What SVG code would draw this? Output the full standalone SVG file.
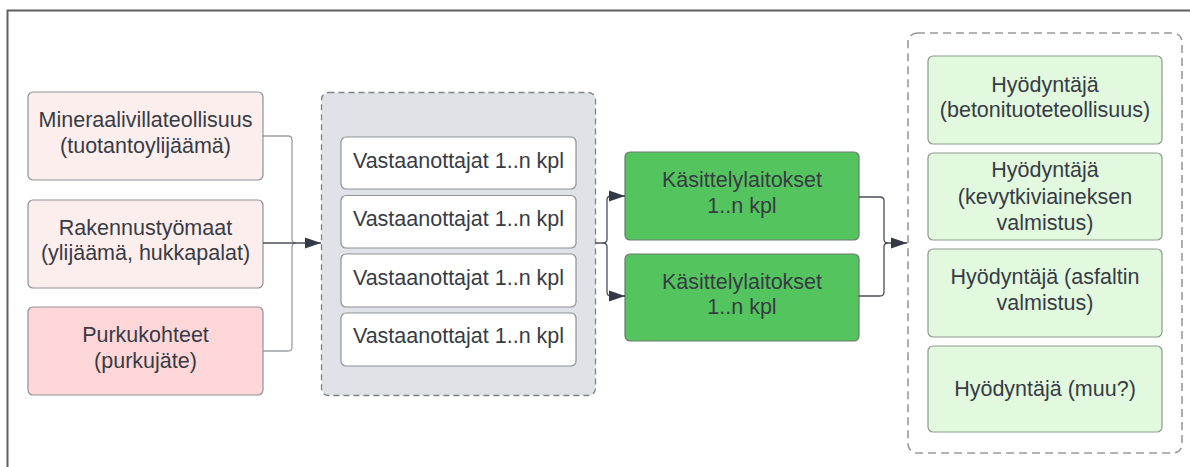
<svg xmlns="http://www.w3.org/2000/svg" width="1190" height="467" viewBox="0 0 1190 467">
  <defs>
    <marker id="arrow" markerUnits="userSpaceOnUse" markerWidth="18" markerHeight="12" refX="16" refY="6" orient="auto">
      <path d="M0,0.5 L16,6 L0,11.5 Z" fill="#333a45"/>
    </marker>
    <style>
      text { font-family: "Liberation Sans", Arial, sans-serif; font-size: 21.5px; fill: #373c44; text-anchor: middle; }
      .box { stroke: #8d9198; stroke-width: 1.2; }
      .src { fill: #fdeeee; }
      .src-strong { fill: #ffd7d9; }
      .recv { fill: #ffffff; }
      .plant { fill: #54c45e; stroke: #6b7a6c; }
      .user { fill: #e2f8df; stroke: #8e9a8e; }
      .group-gray { fill: #dfe2e7; stroke: #7d8188; stroke-width: 1.3; stroke-dasharray: 6 4; }
      .group-open { fill: none; stroke: #9a9a9a; stroke-width: 1.6; stroke-dasharray: 8 5; }
      .link { fill: none; stroke: #9a9ea5; stroke-width: 1.3; }
      .link-main { fill: none; stroke: #4a4f57; stroke-width: 1.3; }
    </style>
  </defs>

  <rect width="1190" height="467" fill="#ffffff"/>

  <!-- outer frame (continues past the right and bottom edges) -->
  <rect x="7.5" y="10.5" width="1220" height="500" fill="none" stroke="#5f5f5f" stroke-width="2"/>

  <!-- containers -->
  <g id="receivers-group">
    <rect class="group-gray" x="321.5" y="92.5" width="274" height="303" rx="7"/>
  </g>
  <g id="users-group">
    <rect class="group-open" x="908" y="33" width="274" height="420" rx="9"/>
  </g>

  <!-- sources -->
  <g id="source-mineraalivilla">
    <rect class="box src" x="28" y="92" width="235" height="88" rx="5"/>
    <text x="145.5" y="127">Mineraalivillateollisuus</text>
    <text x="145.5" y="153">(tuotantoylijäämä)</text>
  </g>
  <g id="source-rakennus">
    <rect class="box src" x="28" y="200" width="235" height="88" rx="5"/>
    <text x="145.5" y="235">Rakennustyömaat</text>
    <text x="145.5" y="260">(ylijäämä, hukkapalat)</text>
  </g>
  <g id="source-purku">
    <rect class="box src-strong" x="28" y="307" width="235" height="88" rx="5"/>
    <text x="145.5" y="342">Purkukohteet</text>
    <text x="145.5" y="368">(purkujäte)</text>
  </g>

  <!-- receivers -->
  <g id="receiver-1">
    <rect class="box recv" x="341" y="137" width="235" height="52" rx="5"/>
    <text x="458.5" y="168">Vastaanottajat 1..n kpl</text>
  </g>
  <g id="receiver-2">
    <rect class="box recv" x="341" y="195.5" width="235" height="52.5" rx="5"/>
    <text x="458.5" y="226">Vastaanottajat 1..n kpl</text>
  </g>
  <g id="receiver-3">
    <rect class="box recv" x="341" y="254" width="235" height="53" rx="5"/>
    <text x="458.5" y="284.5">Vastaanottajat 1..n kpl</text>
  </g>
  <g id="receiver-4">
    <rect class="box recv" x="341" y="313" width="235" height="53" rx="5"/>
    <text x="458.5" y="342.5">Vastaanottajat 1..n kpl</text>
  </g>

  <!-- processing plants -->
  <g id="plant-1">
    <rect class="box plant" x="625" y="152" width="234" height="88" rx="5"/>
    <text x="742" y="187">Käsittelylaitokset</text>
    <text x="742" y="213">1..n kpl</text>
  </g>
  <g id="plant-2">
    <rect class="box plant" x="625" y="254" width="234" height="87" rx="5"/>
    <text x="742" y="288.5">Käsittelylaitokset</text>
    <text x="742" y="314">1..n kpl</text>
  </g>

  <!-- end users -->
  <g id="user-betoni">
    <rect class="box user" x="928" y="56" width="234" height="88" rx="5"/>
    <text x="1045" y="92">Hyödyntäjä</text>
    <text x="1045" y="117">(betonituoteteollisuus)</text>
  </g>
  <g id="user-kevytkivi">
    <rect class="box user" x="928" y="153" width="234" height="87" rx="5"/>
    <text x="1045" y="177">Hyödyntäjä</text>
    <text x="1045" y="203.5">(kevytkiviaineksen</text>
    <text x="1045" y="230">valmistus)</text>
  </g>
  <g id="user-asfaltti">
    <rect class="box user" x="928" y="249" width="234" height="88" rx="5"/>
    <text x="1045" y="283.5">Hyödyntäjä (asfaltin</text>
    <text x="1045" y="310">valmistus)</text>
  </g>
  <g id="user-muu">
    <rect class="box user" x="928" y="346" width="234" height="86" rx="5"/>
    <text x="1045" y="396">Hyödyntäjä (muu?)</text>
  </g>

  <!-- connectors -->
  <g id="connectors">
    <!-- sources merge into the receivers group -->
    <path class="link" d="M263,136 H288 Q292,136 292,140 V239 Q292,243 296,243"/>
    <path class="link" d="M263,351 H288 Q292,351 292,347 V247 Q292,243 296,243"/>
    <path class="link-main" d="M263,243 H321" marker-end="url(#arrow)"/>

    <!-- receivers group splits to both plants -->
    <path class="link-main" d="M595.5,243 H603 Q607,243 607,239 V200 Q607,196 611,196 H625" marker-end="url(#arrow)"/>
    <path class="link-main" d="M603,243 Q607,243 607,247 V292 Q607,296 611,296 H625" marker-end="url(#arrow)"/>

    <!-- plants merge into the end-user group -->
    <path class="link-main" d="M859,197 H880 Q884,197 884,201 V239 Q884,243 888,243 H907" marker-end="url(#arrow)"/>
    <path class="link-main" d="M859,296 H880 Q884,296 884,292 V247 Q884,243 888,243"/>
  </g>
</svg>
